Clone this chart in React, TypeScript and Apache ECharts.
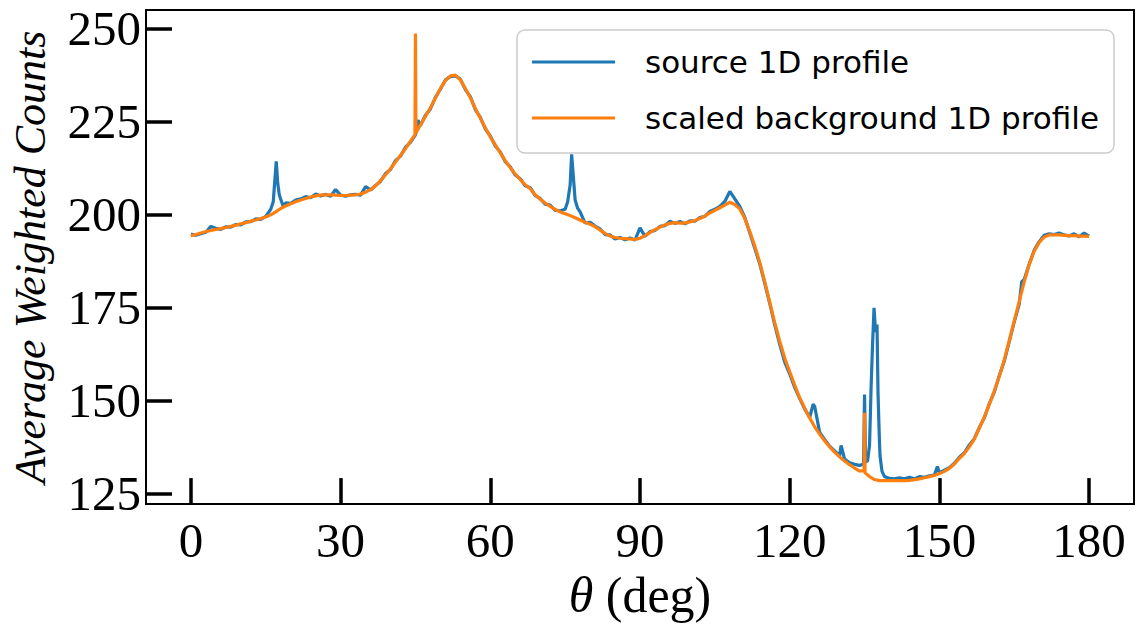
import React, { useEffect, useRef } from "react";
import * as echarts from "echarts";

// ---- data ----
const xTicks = [0, 30, 60, 90, 120, 150, 180];
const yTicks = [125, 150, 175, 200, 225, 250];

// values at integer theta 0..180
const bgCounts = [
  194.4, 194.7, 195.1, 195.5, 195.8, 196.1, 196.3, 196.6, 196.9, 197.2,
  197.6, 197.9, 198.3, 198.6, 199.0, 199.4, 200.0, 200.8, 201.7, 202.4,
  203.0, 203.5, 204.0, 204.4, 204.8, 205.1, 205.3, 205.4, 205.4, 205.3,
  205.2, 205.2, 205.3, 205.4, 205.6, 206.1, 206.8, 207.8, 209.2, 210.8,
  212.4, 214.2, 216.0, 217.8, 219.8, 221.8, 224.2, 226.5, 228.8, 231.4,
  234.0, 236.1, 237.4, 237.6, 236.3, 234.0, 231.5, 228.6, 226.0, 223.4,
  221.0, 218.8, 216.7, 214.6, 212.7, 211.0, 209.5, 208.1, 207.0, 205.4,
  204.2, 203.2, 202.3, 201.5, 200.8, 200.3, 199.8, 199.2, 198.6, 198.0,
  197.5, 196.8, 195.9, 195.0, 194.3, 193.9, 193.7, 193.6, 193.5, 193.4,
  193.7, 194.4, 195.2, 196.0, 196.7, 197.3, 197.7, 197.9, 197.8, 197.8,
  198.1, 198.5, 199.0, 199.7, 200.5, 201.2, 201.9, 202.6, 203.4, 202.8,
  201.6, 199.0, 195.5, 191.6, 187.2, 182.0, 176.5, 171.0, 166.0, 161.5,
  157.8, 154.2, 150.8, 148.0, 145.4, 143.0, 141.0, 139.2, 137.6, 136.2,
  134.9, 133.8, 132.8, 131.9, 131.1, 130.4, 129.6, 128.8, 128.5, 128.5,
  128.5, 128.5, 128.5, 128.5, 128.6, 128.8, 129.0, 129.3, 129.6, 129.9,
  130.4, 131.0, 131.8, 133.0, 134.5, 135.8, 137.6, 139.7, 142.6, 145.6,
  149.0, 152.6, 156.5, 161.0, 166.2, 171.5, 176.7, 182.0, 186.6, 190.2,
  192.6, 194.0, 194.6, 194.6, 194.6, 194.5, 194.4, 194.4, 194.3, 194.3,
  194.2,
];
const bgExtraTheta = [44.9, 45.0, 45.1, 134.9, 135.0, 135.1];
const bgExtraCounts = [221.6, 248.8, 222.0, 131.2, 146.8, 130.6];

const srcCounts = [
  194.8, 194.5, 194.9, 195.3, 196.9, 196.4, 196.1, 196.8, 196.7, 197.4,
  197.3, 198.1, 198.2, 198.9, 198.8, 199.6, 201.5, 212.5, 204.2, 203.2,
  203.1, 204.0, 204.3, 204.9, 204.6, 205.6, 205.1, 205.5, 205.0, 206.8,
  205.3, 205.0, 205.4, 205.5, 205.3, 207.6, 206.7, 207.9, 209.0, 211.1,
  212.2, 214.6, 215.8, 218.2, 219.5, 221.5, 224.0, 226.8, 228.5, 231.6,
  233.8, 236.3, 237.2, 237.4, 236.5, 233.7, 231.8, 228.3, 226.2, 223.1,
  221.2, 218.5, 216.9, 214.3, 212.9, 210.7, 209.7, 207.8, 207.3, 205.2,
  204.4, 202.9, 202.6, 201.2, 201.1, 201.5, 208.0, 204.0, 200.8, 197.8,
  198.0, 197.0, 196.2, 194.7, 194.6, 193.5, 193.9, 193.3, 193.8, 193.2,
  196.5, 194.2, 195.5, 195.8, 196.9, 197.1, 198.3, 197.7, 198.2, 197.6,
  198.4, 198.3, 199.3, 199.6, 200.9, 201.5, 202.3, 203.6, 206.3, 204.3,
  202.3, 199.3, 195.2, 191.0, 186.8, 181.6, 176.2, 170.4, 165.2, 160.4,
  157.2, 153.6, 150.6, 147.8, 145.5, 148.5, 141.5, 139.6, 137.8, 136.5,
  135.2, 134.3, 133.3, 132.9, 132.6, 151.7, 138.0, 173.0, 138.5, 129.6,
  129.1, 129.0, 129.3, 129.0, 129.4, 129.0, 129.6, 129.4, 129.8, 130.0,
  130.6, 131.3, 132.0, 133.2, 134.8, 136.0, 138.1, 139.8, 142.8, 145.4,
  149.2, 152.3, 156.7, 160.6, 165.9, 171.2, 176.0, 182.6, 186.8, 190.5,
  192.8, 194.5, 194.9, 194.7, 195.1, 194.6, 194.3, 194.9, 194.1, 195.1,
  194.3,
];
const srcExtraTheta = [
  16.5, 16.8, 17.1, 17.4, 17.7, 18.5, 45.5, 75.5, 76.3, 76.6, 77.5,
  124.7, 130.3, 134.8, 135.2, 135.6, 136.3, 136.6, 136.9, 137.2, 137.5,
  137.7, 138.1, 138.5, 149.6, 166.5,
];
const srcExtraCounts = [
  203.5, 209.0, 214.4, 208.5, 205.5, 202.3, 225.5, 203.5, 216.3, 211.0, 201.8,
  149.1, 138.0, 133.0, 133.5, 133.8, 153.1, 165.0, 175.0, 168.5, 170.5,
  152.0, 135.2, 131.0, 132.3, 182.0,
];

function mergeSeries(base: number[], exTheta: number[], exVals: number[]) {
  const m = new Map<number, number>();
  base.forEach((v, i) => m.set(i, v));
  exTheta.forEach((t, i) => m.set(t, exVals[i]));
  return Array.from(m.entries()).sort((a, b) => a[0] - b[0]);
}

export default function App() {
  const ref = useRef<HTMLDivElement>(null);
  useEffect(() => {
    document.body.style.margin = "0";
    const chart = echarts.init(ref.current!, null, { renderer: "svg" });
    const serif = "'Liberation Serif', 'DejaVu Serif', serif";
    chart.setOption({
      animation: false,
      backgroundColor: "#ffffff",
      grid: {
        left: 141,
        top: 10,
        width: 993,
        height: 495,
        show: true,
        borderColor: "#000",
        borderWidth: 2,
        backgroundColor: "transparent",
      },
      legend: {
        orient: "vertical",
        left: 517,
        top: 30,
        padding: [15, 15, 18, 15],
        itemGap: 22,
        itemWidth: 83,
        itemHeight: 3,
        icon: "rect",
        backgroundColor: "rgba(255,255,255,0.8)",
        borderColor: "#cccccc",
        borderWidth: 1.5,
        borderRadius: 8,
        textStyle: {
          fontFamily: "'DejaVu Sans', sans-serif",
          fontSize: 31,
          color: "#000",
          padding: [0, 0, 0, 25],
          lineHeight: 34,
        },
        data: ["source 1D profile", "scaled background 1D profile"],
      },
      xAxis: {
        type: "value",
        min: -9,
        max: 189,
        splitLine: { show: false },
        axisLine: { show: true, onZero: false, lineStyle: { color: "#000", width: 2 } },
        axisTick: {
          show: true,
          inside: true,
          length: 26,
          lineStyle: { color: "#000", width: 3.5 },
          customValues: xTicks,
        },
        axisLabel: {
          color: "#000",
          fontFamily: serif,
          fontSize: 49,
          margin: 12,
          customValues: xTicks,
        },
        name: "{i|θ} (deg)",
        nameLocation: "middle",
        nameGap: 62,
        nameTextStyle: {
          color: "#000",
          fontFamily: serif,
          fontSize: 50,
          rich: {
            i: { fontFamily: serif, fontStyle: "italic", fontSize: 50, color: "#000" },
          },
        },
      },
      yAxis: {
        type: "value",
        min: 122.2,
        max: 255.1,
        splitLine: { show: false },
        axisLine: { show: true, onZero: false, lineStyle: { color: "#000", width: 2 } },
        axisTick: {
          show: true,
          inside: true,
          length: 26,
          lineStyle: { color: "#000", width: 3.5 },
          customValues: yTicks,
        },
        axisLabel: {
          color: "#000",
          fontFamily: serif,
          fontSize: 49,
          margin: 5,
          customValues: yTicks,
        },
        name: "Average Weighted Counts",
        nameLocation: "middle",
        nameGap: 94,
        nameRotate: 90,
        nameTextStyle: {
          color: "#000",
          fontFamily: serif,
          fontStyle: "italic",
          fontSize: 44,
        },
      },
      series: [
        {
          name: "source 1D profile",
          type: "line",
          data: mergeSeries(srcCounts, srcExtraTheta, srcExtraCounts),
          showSymbol: false,
          symbol: "none",
          color: "#1f77b4",
          lineStyle: { color: "#1f77b4", width: 3.2 },
          z: 2,
        },
        {
          name: "scaled background 1D profile",
          type: "line",
          data: mergeSeries(bgCounts, bgExtraTheta, bgExtraCounts),
          showSymbol: false,
          symbol: "none",
          color: "#ff7f0e",
          lineStyle: { color: "#ff7f0e", width: 3.2 },
          z: 3,
        },
      ],
    });
    return () => chart.dispose();
  }, []);
  return (
    <div
      ref={ref}
      style={{ position: "absolute", left: 0, top: 0, width: 1138, height: 625 }}
    />
  );
}
